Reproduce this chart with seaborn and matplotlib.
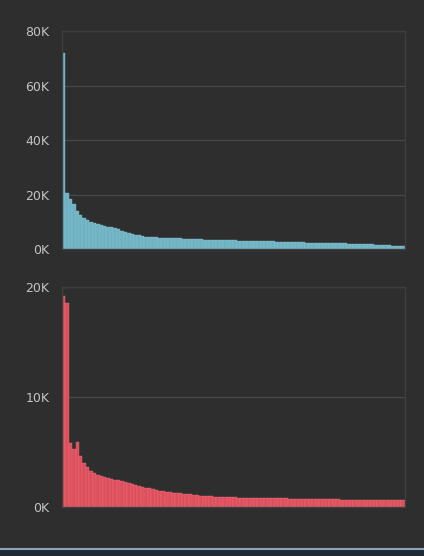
import matplotlib
matplotlib.use("Agg")
import matplotlib.pyplot as plt
from matplotlib.ticker import FuncFormatter
import seaborn as sns
import pandas as pd

bg = "#2e2e2e"
grid_col = "#474747"
text_col = "#c4c4c4"
teal = "#6eb1c2"
red = "#dc4f5c"

# values in thousands, ranked largest first
top_vals = [72, 20.5, 18.5, 16.5, 14, 12.5, 11.5, 10.5, 10, 9.5,
            9.2, 8.8, 8.5, 8.2, 8.0, 7.6, 7.2, 6.8, 6.4, 6.0,
            5.6, 5.3, 5.0, 4.8, 4.6, 4.5, 4.4, 4.3, 4.2, 4.2,
            4.1, 4.0, 4.0, 3.9, 3.9, 3.8, 3.8, 3.7, 3.7, 3.6,
            3.6, 3.5, 3.5, 3.4, 3.4, 3.4, 3.3, 3.3, 3.2, 3.2,
            3.2, 3.1, 3.1, 3.0, 3.0, 3.0, 2.9, 2.9, 2.9, 2.8,
            2.8, 2.8, 2.7, 2.7, 2.7, 2.6, 2.6, 2.6, 2.5, 2.5,
            2.5, 2.4, 2.4, 2.4, 2.3, 2.3, 2.3, 2.2, 2.2, 2.2,
            2.1, 2.1, 2.1, 2.0, 2.0, 2.0, 1.9, 1.9, 1.8, 1.8,
            1.7, 1.6, 1.5, 1.5, 1.4, 1.4, 1.3, 1.2, 1.2, 1.1]

bottom_vals = [19.2, 18.5, 5.8, 5.3, 5.9, 4.6, 4.0, 3.6, 3.3, 3.1,
               2.9, 2.8, 2.7, 2.6, 2.55, 2.5, 2.45, 2.4, 2.3, 2.2,
               2.1, 2.0, 1.9, 1.8, 1.75, 1.7, 1.6, 1.55, 1.5, 1.45,
               1.4, 1.35, 1.3, 1.3, 1.25, 1.2, 1.2, 1.15, 1.1, 1.1,
               1.05, 1.0, 1.0, 1.0, 0.95, 0.95, 0.9, 0.9, 0.9, 0.9,
               0.9, 0.85, 0.85, 0.85, 0.85, 0.85, 0.8, 0.8, 0.8, 0.8,
               0.8, 0.78, 0.78, 0.78, 0.78, 0.78, 0.75, 0.75, 0.75, 0.75,
               0.75, 0.72, 0.72, 0.72, 0.72, 0.72, 0.7, 0.7, 0.7, 0.7,
               0.7, 0.68, 0.68, 0.68, 0.68, 0.68, 0.65, 0.65, 0.65, 0.65,
               0.65, 0.62, 0.62, 0.62, 0.62, 0.62, 0.6, 0.6, 0.6, 0.6]

top_ticks = [0, 20, 40, 60, 80]
bottom_ticks = [0, 10, 20]

sns.set_style("dark")
plt.rcParams["font.family"] = ["Liberation Sans Narrow", "DejaVu Sans"]

fig = plt.figure(figsize=(4.24, 5.56), dpi=100, facecolor=bg)
ax1 = fig.add_axes([0.146, 0.552, 0.809, 0.392])
ax2 = fig.add_axes([0.146, 0.088, 0.809, 0.396])

def kfmt(v, pos):
    return "%dK" % v

panels = [(ax1, top_vals, teal, top_ticks, "#8cc6d4"),
          (ax2, bottom_vals, red, bottom_ticks, "#ef7480")]

for ax, vals, col, ticks, edge in panels:
    df = pd.DataFrame({"rank": range(len(vals)), "value": vals})
    ax.set_facecolor(bg)
    sns.barplot(data=df, x="rank", y="value", ax=ax, color=col, width=1.0,
                saturation=1, edgecolor=edge, linewidth=0.25, native_scale=True)
    ax.set_xlim(-0.5, len(vals) - 0.5)
    ax.set_ylim(0, ticks[-1])
    ax.set_yticks(ticks)
    ax.yaxis.set_major_formatter(FuncFormatter(kfmt))
    ax.set_xticks([])
    ax.set_xlabel("")
    ax.set_ylabel("")
    ax.grid(axis="y", color=grid_col, linewidth=1.0)
    ax.set_axisbelow(True)
    ax.tick_params(axis="y", length=0, pad=9, labelsize=9, labelcolor=text_col)
    for s in ax.spines.values():
        s.set_visible(True)
        s.set_color("#3e3e3e")
        s.set_linewidth(1.0)

# window edge at the bottom of the screenshot
fig.add_artist(plt.Line2D([0, 1], [0.013, 0.013], color="#8aa6bd", linewidth=1.5))
fig.add_artist(plt.Rectangle((0, 0), 1, 0.011, color="#1e2a36"))

fig.savefig("out.png", dpi=100, facecolor=bg)
